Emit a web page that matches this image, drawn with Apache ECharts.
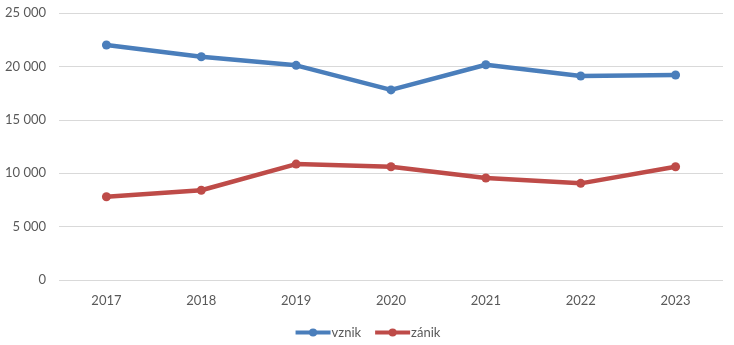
<!DOCTYPE html>
<html><head><meta charset="utf-8">
<script src="https://cdn.jsdelivr.net/npm/echarts@6/dist/echarts.min.js"></script>
<style>html,body{margin:0;padding:0;background:#fff}#c{width:734px;height:345px}</style>
</head><body><div id="c"></div>
<script>
const years = ['2017','2018','2019','2020','2021','2022','2023'];
const vznik = [22000, 20900, 20100, 17800, 20150, 19100, 19200];
const zanik = [7800, 8400, 10850, 10600, 9550, 9050, 10600];
const yTicks = [0, 5000, 10000, 15000, 20000, 25000];

const font = 'Lato, "Open Sans", sans-serif';
const chart = echarts.init(document.getElementById('c'));
chart.setOption({
  animation: false,
  grid: {left: 59, right: 11, top: 13, bottom: 65, containLabel: false},
  legend: {
    bottom: 1, left: 'center', itemWidth: 35, itemHeight: 10, itemGap: 12,
    lineStyle: {width: 4},
    textStyle: {color: '#595959', fontSize: 13, fontFamily: font, padding: [0,0,0,-4]},
    data: ['vznik', 'zánik']
  },
  xAxis: {
    type: 'category', data: years, boundaryGap: true,
    axisLine: {show: false}, axisTick: {show: false},
    axisLabel: {color: '#595959', fontSize: 13, fontFamily: font, margin: 14}
  },
  yAxis: {
    type: 'value', min: yTicks[0], max: yTicks[yTicks.length-1], interval: 5000,
    axisLine: {show: false}, axisTick: {show: false},
    splitLine: {lineStyle: {color: '#d9d9d9', width: 1}},
    axisLabel: {color: '#595959', fontSize: 13, fontFamily: font, margin: 13,
      formatter: v => String(v).replace(/\B(?=(\d{3})+(?!\d))/g, ' ')}
  },
  series: [
    {name: 'vznik', type: 'line', data: vznik, symbol: 'circle', symbolSize: 9,
     lineStyle: {width: 4.5, color: '#4a7ebb'}, itemStyle: {color: '#4a7ebb'}},
    {name: 'zánik', type: 'line', data: zanik, symbol: 'circle', symbolSize: 9,
     lineStyle: {width: 4.5, color: '#be4b48'}, itemStyle: {color: '#be4b48'}}
  ]
});
</script></body></html>
